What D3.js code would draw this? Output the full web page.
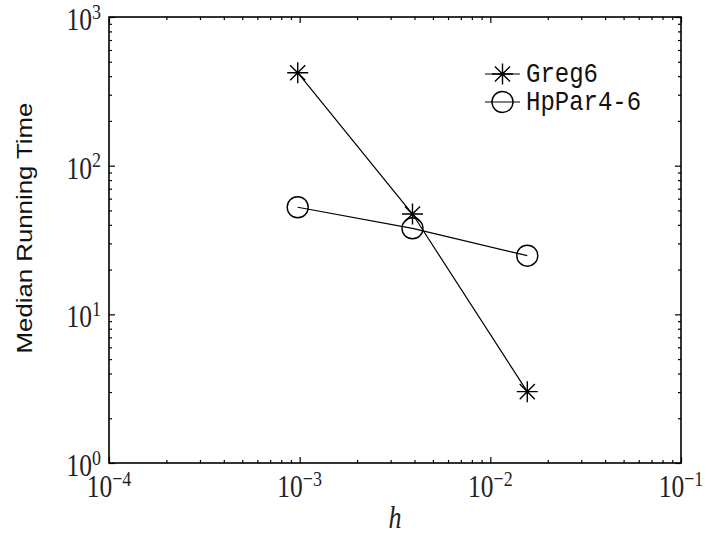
<!DOCTYPE html>
<html lang="en">
<head>
  <meta charset="UTF-8" />
  <title>Median Running Time</title>
  <script src="https://d3js.org/d3.v7.min.js"></script>
  <style>
    body { margin: 0; background: #fff; }
    svg { display: block; }
    .serif { font-family: 'Liberation Serif', 'DejaVu Serif', serif; fill: #222; }
    .mono { font-family: 'Liberation Mono', 'DejaVu Sans Mono', monospace; fill: #111; }
    .sans { font-family: 'Liberation Sans', Arial, sans-serif; fill: #111; }
  </style>
</head>
<body>
  <svg width="706" height="536"></svg>

  <script>
    // step sizes h and running times
    const hValues = [1 / 1024, 1 / 256, 1 / 64];
    const greg6 = [422, 47.3, 3.02];
    const hpPar = [52.5, 37.9, 24.8];
    const seriesNames = ["Greg6", "HpPar4-6"];
    const xDecades = [-4, -3, -2, -1];
    const yDecades = [0, 1, 2, 3];

    const width = 706, height = 536;
    const margin = { left: 109, right: 25, top: 17, bottom: 73 };
    const svg = d3.select("svg");

    const x = d3.scaleLog().domain([1e-4, 1e-1]).range([margin.left, width - margin.right]);
    const y = d3.scaleLog().domain([1, 1e3]).range([height - margin.bottom, margin.top]);
    const x0 = x.range()[0], x1 = x.range()[1];
    const y0 = y.range()[0], y1 = y.range()[1];

    const SY = 1.2; // the original figure's text is stretched vertically

    // minor ticks 2..9 in every decade
    function minorTicks(decs) {
      const out = [];
      for (let i = 0; i < decs.length - 1; i++)
        for (let k = 2; k <= 9; k++) out.push(k * Math.pow(10, decs[i]));
      return out;
    }
    const xMajor = xDecades.map(d => Math.pow(10, d));
    const yMajor = yDecades.map(d => Math.pow(10, d));

    const tickG = svg.append("g");
    function addTicks(axisFn, scale, values, len, translate) {
      tickG.append("g")
        .attr("transform", translate)
        .call(axisFn(scale).tickValues(values).tickSize(len).tickFormat(""))
        .call(g => g.select(".domain").remove())
        .call(g => g.selectAll("line").attr("stroke", "#000").attr("stroke-width", 1.2));
    }
    // ticks point inward on all four sides
    addTicks(d3.axisBottom, x, xMajor, -6, `translate(0,${y0})`);
    addTicks(d3.axisBottom, x, minorTicks(xDecades), -3, `translate(0,${y0})`);
    addTicks(d3.axisTop, x, xMajor, -6, `translate(0,${y1})`);
    addTicks(d3.axisTop, x, minorTicks(xDecades), -3, `translate(0,${y1})`);
    addTicks(d3.axisLeft, y, yMajor, -6, `translate(${x0},0)`);
    addTicks(d3.axisLeft, y, minorTicks(yDecades), -3, `translate(${x0},0)`);
    addTicks(d3.axisRight, y, yMajor, -6, `translate(${x1},0)`);
    addTicks(d3.axisRight, y, minorTicks(yDecades), -3, `translate(${x1},0)`);

    svg.append("rect")
      .attr("x", x0).attr("y", y1)
      .attr("width", x1 - x0).attr("height", y0 - y1)
      .attr("fill", "none").attr("stroke", "#000").attr("stroke-width", 1.6);

    // power-of-ten labels
    function powerLabel(px, py, exp, anchor) {
      const t = svg.append("text")
        .attr("class", "serif")
        .attr("transform", `translate(${px},${py}) scale(1,${SY})`)
        .attr("text-anchor", anchor)
        .attr("font-size", 25.5);
      t.append("tspan").text("10");
      t.append("tspan").attr("font-size", 18).attr("dy", -9.5)
        .text(exp < 0 ? "\u2212" + (-exp) : String(exp));
    }
    xDecades.forEach(d => powerLabel(x(Math.pow(10, d)), 497, d, "middle"));
    yDecades.forEach(d => powerLabel(101, y(Math.pow(10, d)) + 13, d, "end"));

    // axis titles
    svg.append("text").attr("class", "serif")
      .attr("transform", `translate(${(x0 + x1) / 2},528) scale(1,${SY})`)
      .attr("text-anchor", "middle").attr("font-size", 26).attr("font-style", "italic")
      .text("h");
    svg.append("text").attr("class", "sans")
      .attr("transform", `translate(32,${(y0 + y1) / 2 - 12}) scale(1,${SY}) rotate(-90)`)
      .attr("text-anchor", "middle").attr("font-size", 21.5)
      .text("Median Running Time");

    // markers
    function asterisk(g, cx, cy) {
      const r = 10.5, d = r * 0.72;
      const p = `M${cx - r},${cy}H${cx + r}M${cx},${cy - r}V${cy + r}` +
        `M${cx - d},${cy - d}L${cx + d},${cy + d}M${cx - d},${cy + d}L${cx + d},${cy - d}`;
      g.append("path").attr("d", p).attr("stroke", "#000").attr("stroke-width", 1.4).attr("fill", "none");
    }
    function circle(g, cx, cy) {
      g.append("circle").attr("cx", cx).attr("cy", cy).attr("r", 10.5)
        .attr("fill", "none").attr("stroke", "#000").attr("stroke-width", 1.4);
    }

    const line = d3.line().x(d => x(d[0])).y(d => y(d[1]));
    const series = [
      { name: seriesNames[0], values: greg6, marker: asterisk },
      { name: seriesNames[1], values: hpPar, marker: circle }
    ];
    const plotG = svg.append("g");
    series.forEach(s => {
      const pts = hValues.map((h, i) => [h, s.values[i]]);
      plotG.append("path").attr("d", line(pts))
        .attr("fill", "none").attr("stroke", "#000").attr("stroke-width", 1.2);
      pts.forEach(p => s.marker(plotG, x(p[0]), y(p[1])));
    });

    // legend
    const legendRows = [74, 102];
    series.forEach((s, i) => {
      const ly = legendRows[i];
      svg.append("line").attr("x1", 485).attr("x2", 520).attr("y1", ly).attr("y2", ly)
        .attr("stroke", "#000").attr("stroke-width", 1.2);
      s.marker(svg, 502.5, ly);
      svg.append("text").attr("class", "mono")
        .attr("transform", `translate(526,${ly + 8}) scale(1,1.12)`)
        .attr("font-size", 24)
        .text(s.name);
    });
  </script>
</body>
</html>
